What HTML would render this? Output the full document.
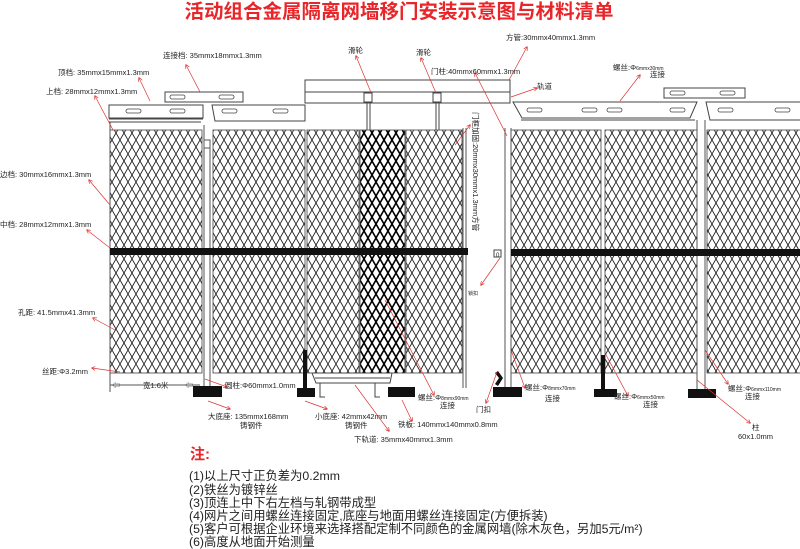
<!DOCTYPE html>
<html><head><meta charset="utf-8"><style>
html,body{margin:0;padding:0;background:#fff;width:800px;height:549px;overflow:hidden}
svg{display:block}
text{font-family:"Liberation Sans","Noto Sans CJK SC",sans-serif;fill:#222}
</style></head><body>
<svg width="800" height="549" viewBox="0 0 800 549" xmlns="http://www.w3.org/2000/svg">
<defs>
<pattern id="m" width="8" height="14" patternUnits="userSpaceOnUse">
<path d="M0 0 L4 7 L0 14 M8 0 L4 7 L8 14" stroke="#222" stroke-width="0.9" fill="none"/>
</pattern>
<pattern id="md" width="8" height="14" patternUnits="userSpaceOnUse">
<path d="M0 0 L4 7 L0 14 M8 0 L4 7 L8 14" stroke="#000" stroke-width="1.6" fill="none"/>
</pattern>
<marker id="a" markerWidth="6" markerHeight="6" refX="5" refY="3" orient="auto"><path d="M0 0 L6 3 L0 6" fill="none" stroke="#d33" stroke-width="1"/></marker>
</defs>
<text x="399" y="18" text-anchor="middle" font-size="19.5" font-weight="bold" style="fill:#e8262a">活动组合金属隔离网墙移门安装示意图与材料清单</text>

<!-- meshes -->
<g stroke="#444" stroke-width="0.8">
<rect x="110" y="130" width="92" height="243" fill="url(#m)"/>
<rect x="213" y="130" width="92" height="243" fill="url(#m)"/>
<rect x="307" y="130" width="52" height="243" fill="url(#m)"/>
<rect x="360" y="130" width="45" height="243" fill="url(#md)"/>
<rect x="406" y="130" width="56" height="243" fill="url(#m)"/>
<rect x="511" y="130" width="90" height="243" fill="url(#m)"/>
<rect x="605" y="130" width="92" height="243" fill="url(#m)"/>
<rect x="707" y="130" width="95" height="243" fill="url(#m)"/>
</g>
<!-- frames/posts -->
<g stroke="#555" stroke-width="1" fill="none">
<line x1="110" y1="122" x2="110" y2="392"/>
<line x1="204" y1="125" x2="204" y2="392"/><line x1="210" y1="140" x2="210" y2="392"/>
<rect x="204" y="140" width="6" height="8"/>
<line x1="463" y1="128" x2="463" y2="388"/><line x1="466" y1="128" x2="466" y2="388"/>
<line x1="505" y1="128" x2="505" y2="392"/><line x1="511" y1="128" x2="511" y2="392"/>
<line x1="697" y1="120" x2="697" y2="392"/><line x1="705" y1="120" x2="705" y2="392"/>
<line x1="110" y1="385" x2="200" y2="385"/>
</g>
<!-- mid bars -->
<rect x="110" y="248" width="358" height="7" fill="#111"/>
<rect x="511" y="249" width="291" height="7" fill="#111"/>
<rect x="303" y="350" width="4" height="40" fill="#111"/>
<rect x="601" y="355" width="4" height="37" fill="#111"/>
<!-- top rails -->
<g stroke="#444" stroke-width="1" fill="#fff">
<path d="M109 105 L203 105 L203 118 L109 118 Z"/><line x1="109" y1="119" x2="203" y2="119"/><line x1="109" y1="122" x2="201" y2="122"/>
<path d="M212 105 L305 105 L305 121 L215 121 Z"/>
<rect x="165" y="92" width="78" height="10"/>
<path d="M513 102 L697 102 L690 118 L522 118 Z"/><line x1="521" y1="120" x2="695" y2="120"/>
<path d="M706 102 L802 102 L802 120 L710 120 Z"/>
<rect x="664" y="88" width="81" height="10"/>
<rect x="305" y="80" width="205" height="23"/><line x1="305" y1="92" x2="510" y2="92"/>
<rect x="364" y="93" width="8" height="9"/><rect x="433" y="93" width="8" height="9"/>
<line x1="367" y1="102" x2="367" y2="130"/><line x1="370" y1="102" x2="370" y2="130"/>
<line x1="436" y1="102" x2="436" y2="130"/><line x1="439" y1="102" x2="439" y2="130"/>
</g>
<g fill="none" stroke="#444" stroke-width="0.8">
<rect x="126" y="109" width="15" height="4" rx="2"/><rect x="170" y="109" width="15" height="4" rx="2"/>
<rect x="222" y="109" width="15" height="4" rx="2"/><rect x="273" y="109" width="15" height="4" rx="2"/>
<rect x="170" y="95" width="15" height="4" rx="2"/><rect x="219" y="95" width="15" height="4" rx="2"/>
<rect x="527" y="108" width="15" height="4" rx="2"/><rect x="582" y="108" width="15" height="4" rx="2"/>
<rect x="607" y="108" width="15" height="4" rx="2"/><rect x="670" y="108" width="15" height="4" rx="2"/>
<rect x="670" y="91" width="15" height="4" rx="2"/><rect x="720" y="91" width="15" height="4" rx="2"/>
<rect x="718" y="108" width="15" height="4" rx="2"/><rect x="775" y="108" width="15" height="4" rx="2"/>
</g>
<!-- bases -->
<g fill="#111">
<rect x="193" y="386" width="29" height="11"/>
<rect x="297" y="388" width="18" height="9"/>
<rect x="388" y="387" width="27" height="10"/>
<rect x="493" y="387" width="29" height="10"/>
<rect x="594" y="389" width="23" height="8"/>
<rect x="688" y="389" width="28" height="9"/>
<path d="M498 371 L503 378 L498 386 L495 384 L499 378 L495 373 Z"/>
</g>
<g stroke="#444" fill="#fff" stroke-width="1">
<path d="M312 373 L392 373 L390 383 L316 383 Z"/><line x1="315" y1="378" x2="390" y2="378"/>
<path d="M320 383 L320 397 L325 397 M375 383 L375 397 L380 397" fill="none"/>
<rect x="494" y="250" width="7" height="7"/>
</g>
<!-- arrows -->
<g stroke="#d33" stroke-width="0.7" marker-end="url(#a)" fill="none">
<line x1="150" y1="101" x2="139" y2="78"/>
<line x1="113" y1="130" x2="95" y2="96"/>
<line x1="200" y1="92" x2="186" y2="65"/>
<line x1="372" y1="95" x2="356" y2="56"/>
<line x1="436" y1="93" x2="421" y2="58"/>
<line x1="509" y1="80" x2="527" y2="47"/>
<line x1="507" y1="136" x2="475" y2="73"/>
<line x1="511" y1="97" x2="537" y2="88"/>
<line x1="620" y1="101" x2="640" y2="75"/>
<line x1="455" y1="145" x2="470" y2="125"/>
<line x1="110" y1="205" x2="89" y2="180"/>
<line x1="110" y1="248" x2="87" y2="230"/>
<line x1="115" y1="330" x2="93" y2="318"/>
<line x1="120" y1="372" x2="92" y2="368"/>
<line x1="205" y1="379" x2="227" y2="387"/>
<line x1="208" y1="401" x2="230" y2="409"/>
<line x1="305" y1="401" x2="327" y2="409"/>
<line x1="355" y1="385" x2="389" y2="431"/>
<line x1="402" y1="400" x2="412" y2="421"/>
<line x1="385" y1="300" x2="434" y2="395"/>
<line x1="500" y1="258" x2="481" y2="285"/>
<line x1="497" y1="372" x2="486" y2="403"/>
<line x1="511" y1="350" x2="525" y2="388"/>
<line x1="605" y1="353" x2="628" y2="396"/>
<line x1="705" y1="350" x2="728" y2="384"/>
<line x1="697" y1="380" x2="750" y2="423"/>
</g>
<!-- width arrow -->
<text x="112" y="388" font-size="8">⇦</text><text x="185" y="388" font-size="8">⇦</text>
<g font-size="7.5">
<text x="163" y="58">连接档: 35mmx18mmx1.3mm</text>
<text x="58" y="75">顶档: 35mmx15mmx1.3mm</text>
<text x="46" y="94">上档: 28mmx12mmx1.3mm</text>
<text x="348" y="53">滑轮</text>
<text x="416" y="55">滑轮</text>
<text x="506" y="40">方管:30mmx40mmx1.3mm</text>
<text x="431" y="74">门柱:40mmx60mmx1.3mm</text>
<text x="537" y="89">轨道</text>
<text x="613" y="70">螺丝:Φ<tspan font-size="5">6mmx30mm</tspan></text>
<text x="650" y="77">连接</text>
<text x="0" y="177">边档: 30mmx16mmx1.3mm</text>
<text x="0" y="227">中档: 28mmx12mmx1.3mm</text>
<text x="18" y="315">孔距: 41.5mmx41.3mm</text>
<text x="42" y="374">丝距:Φ3.2mm</text>
<text x="143" y="388">宽1.6米</text>
<text x="225" y="388">圆柱:Φ60mmx1.0mm</text>
<text x="208" y="419">大底座: 135mmx168mm</text>
<text x="240" y="428">铸钢件</text>
<text x="315" y="419">小底座: 42mmx42mm</text>
<text x="345" y="428">铸钢件</text>
<text x="398" y="427">铁板: 140mmx140mmx0.8mm</text>
<text x="354" y="442">下轨道: 35mmx40mmx1.3mm</text>
<text x="418" y="400">螺丝:Φ<tspan font-size="5">8mmx90mm</tspan></text>
<text x="440" y="408">连接</text>
<text x="476" y="412">门扣</text>
<text x="525" y="390">螺丝:Φ<tspan font-size="5">8mmx70mm</tspan></text>
<text x="545" y="401">连接</text>
<text x="614" y="399">螺丝:Φ<tspan font-size="5">6mmx50mm</tspan></text>
<text x="643" y="407">连接</text>
<text x="728" y="391">螺丝:Φ<tspan font-size="5">6mmx110mm</tspan></text>
<text x="745" y="399">连接</text>
<text x="752" y="430">柱</text>
<text x="738" y="439">60x1.0mm</text>
<text x="468" y="295" font-size="5">锁扣</text>
<text x="496" y="257" font-size="6">0</text>
<text transform="translate(473,112) rotate(90)" font-size="7.5">门框加固:20mmx30mmx1.3mm方管</text>
</g>
<text x="190" y="459" font-size="15" font-weight="bold" style="fill:#e8262a">注:</text>
<g font-size="12.3" fill="#222">
<text x="189" y="480">(1)以上尺寸正负差为0.2mm</text>
<text x="189" y="494">(2)铁丝为镀锌丝</text>
<text x="189" y="507">(3)顶连上中下右左档与轧钢带成型</text>
<text x="189" y="520">(4)网片之间用螺丝连接固定,底座与地面用螺丝连接固定(方便拆装)</text>
<text x="189" y="533">(5)客户可根据企业环境来选择搭配定制不同颜色的金属网墙(除木灰色，另加5元/m²)</text>
<text x="189" y="546">(6)高度从地面开始测量</text>
</g>
</svg>
</body></html>
